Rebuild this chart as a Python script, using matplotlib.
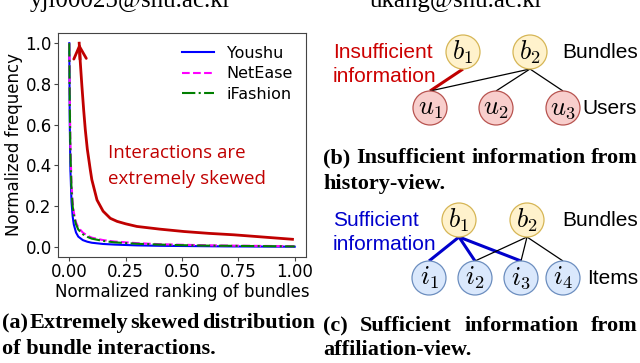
import numpy as np
import matplotlib
matplotlib.use("Agg")
import matplotlib.pyplot as plt
from matplotlib.patches import Circle

# normalized ranking (x) and normalized frequency per dataset
rank = [0, 0.002, 0.005, 0.01, 0.015, 0.02, 0.03, 0.04, 0.06, 0.08, 0.1,
        0.15, 0.2, 0.3, 0.4, 0.5, 0.6, 0.7, 0.8, 0.9, 1.0]
youshu = [1.0, 0.62, 0.38, 0.22, 0.15, 0.11, 0.07, 0.05, 0.033, 0.025, 0.02,
          0.014, 0.011, 0.007, 0.005, 0.004, 0.003, 0.002, 0.0015, 0.001, 0.0005]
netease = [1.0, 0.75, 0.5, 0.3, 0.22, 0.17, 0.12, 0.095, 0.07, 0.055, 0.045,
           0.033, 0.026, 0.018, 0.013, 0.01, 0.008, 0.006, 0.005, 0.004, 0.003]
ifashion = [1.0, 0.72, 0.46, 0.28, 0.2, 0.155, 0.11, 0.085, 0.062, 0.049, 0.04,
            0.029, 0.022, 0.015, 0.011, 0.008, 0.006, 0.005, 0.004, 0.003, 0.002]

# illustrative "skewed" curve with arrow (tip first)
skew_x = [0.044, 0.048, 0.056, 0.064, 0.071, 0.08, 0.093, 0.10, 0.123, 0.15,
          0.182, 0.212, 0.25, 0.30, 0.40, 0.51, 0.62, 0.73, 0.86, 0.99]
skew_y = [1.0, 0.92, 0.79, 0.67, 0.576, 0.48, 0.38, 0.33, 0.23, 0.175,
          0.14, 0.125, 0.113, 0.10, 0.087, 0.075, 0.066, 0.059, 0.048, 0.037]

xticks = [0, 0.25, 0.5, 0.75, 1.0]
yticks = [0, 0.2, 0.4, 0.6, 0.8, 1.0]

RED = "#c00000"
BLUE = "#0000cc"

fig = plt.figure(figsize=(6.4, 3.63), dpi=100)

# overlay in pixel coordinates for diagrams and captions
ov = fig.add_axes([0, 0, 1, 1])
ov.set_xlim(0, 640)
ov.set_ylim(363, 0)
ov.axis("off")

ax = fig.add_axes([58 / 640, 1 - 257 / 363, 248 / 640, 224 / 363])
ax.plot(rank, youshu, color="blue", lw=1.5, label="Youshu")
ax.plot(rank, netease, color="magenta", ls="--", lw=1.5, label="NetEase")
ax.plot(rank, ifashion, color="green", ls="-.", lw=1.5, label="iFashion")
ax.plot(skew_x, skew_y, color=RED, lw=2)
ax.annotate("", xy=(skew_x[0], skew_y[0]), xytext=(skew_x[1], skew_y[1]),
            arrowprops=dict(arrowstyle="->,head_length=0.9,head_width=0.45",
                            color=RED, lw=2, shrinkA=0, shrinkB=0))
ax.text(0.173, 0.438, "Interactions are", color=RED, fontsize=13.5,
        family="Open Sans", va="baseline")
ax.text(0.173, 0.31, "extremely skewed", color=RED, fontsize=13.5,
        family="Open Sans", va="baseline")

ax.set_xticks(xticks)
ax.set_yticks(yticks)
ax.set_xlim(-0.05, 1.05)
ax.set_ylim(-0.05, 1.05)
ax.tick_params(labelsize=12, length=3, pad=1.5, color="#444444")
for s in ax.spines.values():
    s.set_color("#444444")
ax.set_xlabel("Normalized ranking of bundles", fontsize=12, labelpad=1)
ax.set_ylabel("Normalized frequency", fontsize=12, labelpad=2)
ax.legend(frameon=False, loc="upper right", fontsize=11.5, handlelength=2.0,
          handletextpad=0.8, labelspacing=0.35, borderaxespad=0.4)

# ---- diagrams ----
R = 17
SANS = "Liberation Sans"
yellow = dict(fc="#fff2cc", ec="#d6b656")
pink = dict(fc="#f8cecc", ec="#b85450")
lblue = dict(fc="#dae8fc", ec="#6c8ebf")


def node(x, y, label, style):
    ov.add_patch(Circle((x, y), R, lw=0.9, zorder=3, **style))
    ov.text(x, y, label, ha="center", va="center", fontsize=19,
            math_fontfamily="cm", zorder=4)


def edge(p, c, color="black", lw=0.9):
    ov.plot([p[0], c[0]], [p[1] + R, c[1] - R], color=color, lw=lw,
            solid_capstyle="butt", zorder=2)


# (b) history view
b1, b2 = (463, 52), (530, 52)
users = [(430, 108), (496, 108), (563, 108)]
edge(b1, users[0], RED, 2.2)
for u in users:
    edge(b2, u)
node(*b1, "$b_1$", yellow)
node(*b2, "$b_2$", yellow)
for k, u in enumerate(users):
    node(*u, "$u_%d$" % (k + 1), pink)
ov.text(562, 52, "Bundles", fontsize=15, family=SANS, va="center")
ov.text(582, 108, "Users", fontsize=15, family=SANS, va="center")
ov.text(333, 52, "Insufficient", fontsize=15, family=SANS, va="center", color="#cc0000")
ov.text(333, 76, "information", fontsize=15, family=SANS, va="center", color="#cc0000")

# (c) affiliation view
c1, c2 = (459, 220), (527, 220)
items = [(429, 278), (475, 278), (521, 278), (563, 278)]
for it in items[:3]:
    edge(c1, it, BLUE, 2.2)
for it in items[1:]:
    edge(c2, it)
node(*c1, "$b_1$", yellow)
node(*c2, "$b_2$", yellow)
for k, it in enumerate(items):
    node(*it, "$i_%d$" % (k + 1), lblue)
ov.text(562, 220, "Bundles", fontsize=15, family=SANS, va="center")
ov.text(587, 278, "Items", fontsize=15, family=SANS, va="center")
ov.text(333, 220, "Sufficient", fontsize=15, family=SANS, va="center", color=BLUE)
ov.text(333, 245, "information", fontsize=15, family=SANS, va="center", color=BLUE)

# ---- captions ----
cap = dict(family="Liberation Serif", weight="bold", fontsize=16, va="baseline")
renderer = fig.canvas.get_renderer()


def justify(words, x0, x1, y):
    ts = [ov.text(0, y, w, **cap) for w in words]
    ws = [t.get_window_extent(renderer).width for t in ts]
    gap = (x1 - x0 - sum(ws)) / (len(ws) - 1)
    x = x0
    for t, w in zip(ts, ws):
        t.set_x(x)
        x += w + gap


justify(["(a)", "Extremely", "skewed", "distribution"], 2, 315, 328)
ov.text(2, 354, "of bundle interactions.", **cap)
justify(["(b)", "Insufficient", "information", "from"], 323, 638, 163)
ov.text(323, 189, "history-view.", **cap)
justify(["(c)", "Sufficient", "information", "from"], 323, 638, 331)
ov.text(323, 355, "affiliation-view.", **cap)

# cut-off header emails (cropped in the original too)
ov.text(30, 7, "yjl00025@snu.ac.kr", family="Liberation Serif", fontsize=18, va="baseline")
ov.text(370, 7, "ukang@snu.ac.kr", family="Liberation Serif", fontsize=18, va="baseline")

fig.savefig("out.png", dpi=100)
